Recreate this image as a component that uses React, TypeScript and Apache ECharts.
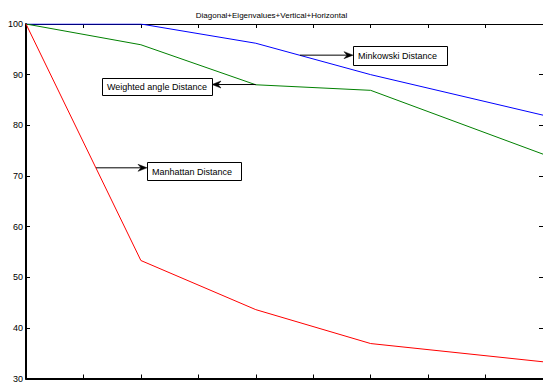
import React, { useEffect, useRef } from "react";
import * as echarts from "echarts";

const TITLE = "Diagonal+Eigenvalues+Vertical+Horizontal";
const xValues = [0, 2, 4, 6, 9];
const minkowski = [100, 100, 96.2, 90, 82.0];
const weighted = [100, 95.9, 88, 86.9, 74.3];
const manhattan = [100, 53.3, 43.6, 36.9, 33.3];
const yTicks = { min: 30, max: 100, step: 10 };
const xTicks = { min: 0, max: 9, step: 1 };

// annotation labels: text, arrow start in data coordinates
const labels = ["Minkowski Distance", "Weighted angle Distance", "Manhattan Distance"];
const arrowFrom: [number, number][] = [[4.77, 93.85], [4, 88.05], [1.22, 71.6]];

const FONT = "Arial, 'Liberation Sans', sans-serif";

export default function App() {
  const ref = useRef<HTMLDivElement>(null);
  useEffect(() => {
    if (!ref.current) return;
    const chart = echarts.init(ref.current, null, { renderer: "svg" });
    const mk = (name: string, vals: number[], color: string) => ({
      name,
      type: "line",
      data: xValues.map((x, i) => [x, vals[i]]),
      showSymbol: false,
      symbol: "none",
      lineStyle: { color, width: 1 },
      itemStyle: { color },
      z: 3,
    });
    const axisLine = (w: number) => ({ show: true, onZero: false, lineStyle: { color: "#000", width: w } });
    chart.setOption({
      animation: false,
      backgroundColor: "#fff",
      title: {
        text: TITLE,
        left: "center",
        top: 6,
        textStyle: { fontSize: 8, fontWeight: "normal", color: "#000", fontFamily: FONT },
      },
      grid: { left: 26, top: 24, right: -1, bottom: 2, containLabel: false },
      xAxis: [
        {
          type: "value", min: xTicks.min, max: xTicks.max, interval: xTicks.step, position: "bottom",
          axisLine: axisLine(2), axisTick: { inside: true, length: 4, lineStyle: { color: "#000" } },
          axisLabel: { show: false }, splitLine: { show: false },
        },
        {
          type: "value", min: xTicks.min, max: xTicks.max, interval: xTicks.step, position: "top",
          axisLine: axisLine(1), axisTick: { inside: true, length: 4, lineStyle: { color: "#000" } },
          axisLabel: { show: false }, splitLine: { show: false },
        },
      ],
      yAxis: [
        {
          type: "value", min: yTicks.min, max: yTicks.max, interval: yTicks.step, position: "left",
          axisLine: axisLine(2), axisTick: { inside: true, length: 4, lineStyle: { color: "#000" } },
          axisLabel: { show: true, color: "#000", fontSize: 9, fontFamily: FONT, margin: 3 },
          splitLine: { show: false },
        },
        {
          type: "value", min: yTicks.min, max: yTicks.max, interval: yTicks.step, position: "right",
          axisLine: axisLine(1), axisTick: { inside: true, length: 4, lineStyle: { color: "#000" } },
          axisLabel: { show: false }, splitLine: { show: false },
        },
      ],
      series: [
        mk("Minkowski Distance", minkowski, "#0000ff"),
        mk("Weighted angle Distance", weighted, "#008000"),
        mk("Manhattan Distance", manhattan, "#ff0000"),
      ],
    });

    // box layouts (pixel): left, top, width, height; arrow tip side
    const boxes = [
      { x: 353, y: 46, w: 94, h: 19, side: "left" },
      { x: 102, y: 78, w: 110, h: 17, side: "right" },
      { x: 147, y: 162, w: 94, h: 18, side: "left" },
    ];
    const elements: any[] = [];
    labels.forEach((label, i) => {
      const b = boxes[i];
      const p = chart.convertToPixel({ gridIndex: 0 }, arrowFrom[i]) as number[];
      const sx = p[0], sy = p[1];
      const tipX = b.side === "left" ? b.x : b.x + b.w;
      const dir = tipX > sx ? 1 : -1;
      elements.push({
        type: "rect",
        shape: { x: b.x + 0.5, y: b.y + 0.5, width: b.w, height: b.h },
        style: { fill: "#fff", stroke: "#000", lineWidth: 1 },
        z: 10,
      });
      elements.push({
        type: "text",
        x: b.x + 5,
        y: b.y + b.h / 2 + 0.5,
        style: { text: label, fill: "#000", font: `9px ${FONT}`, verticalAlign: "middle", align: "left" },
        z: 11,
      });
      elements.push({
        type: "line",
        shape: { x1: sx, y1: sy, x2: tipX - dir * 4, y2: sy },
        style: { stroke: "#000", lineWidth: 1 },
        z: 10,
      });
      elements.push({
        type: "polygon",
        shape: {
          points: [
            [tipX, sy],
            [tipX - dir * 9, sy - 3.5],
            [tipX - dir * 6, sy],
            [tipX - dir * 9, sy + 3.5],
          ],
        },
        style: { fill: "#000", stroke: "#000", lineWidth: 0.5 },
        z: 10,
      });
    });
    chart.setOption({ graphic: elements });
    return () => chart.dispose();
  }, []);
  return (
    <div
      ref={ref}
      style={{ position: "absolute", left: 0, top: 0, width: 543, height: 383, background: "#fff" }}
    />
  );
}
